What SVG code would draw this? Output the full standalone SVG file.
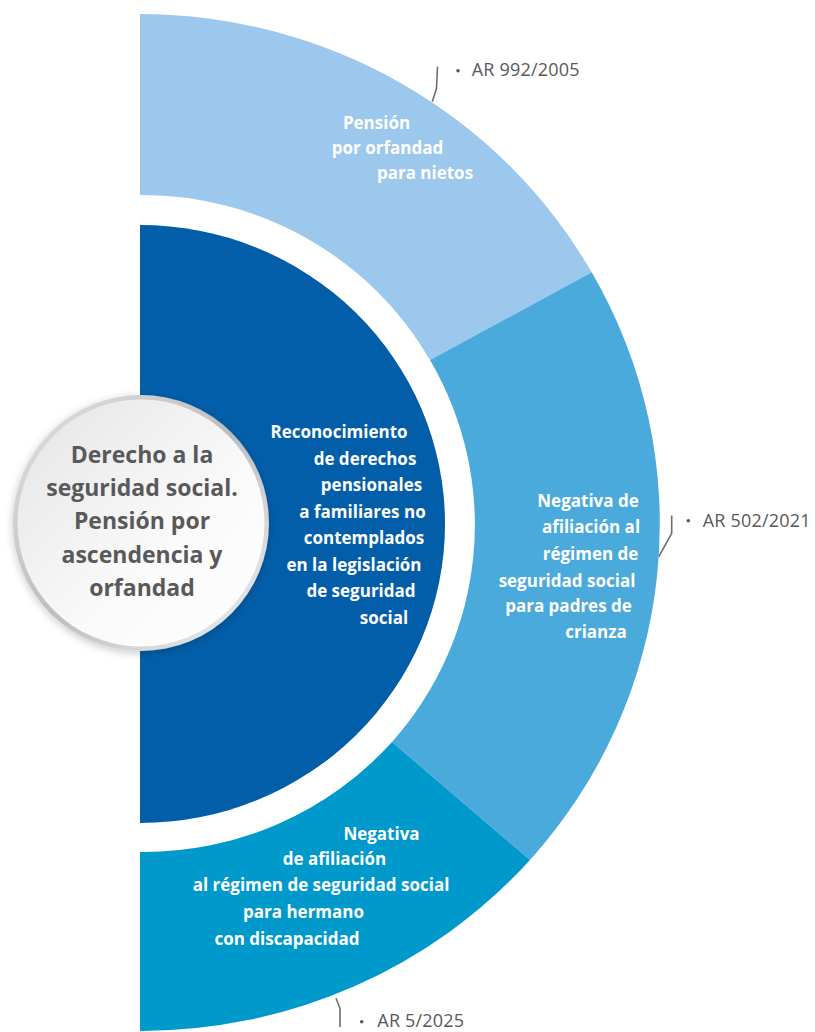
<svg xmlns="http://www.w3.org/2000/svg" width="815" height="1032" viewBox="0 0 815 1032">
<style>
.lbl{font-family:"Open Sans","Liberation Sans",sans-serif;font-weight:700;font-size:17px;fill:#ffffff;text-anchor:middle}
.ttl{font-family:"Open Sans","Liberation Sans",sans-serif;font-weight:700;font-size:23px;fill:#58595b;text-anchor:middle}
.ref{font-family:"Open Sans","Liberation Sans",sans-serif;font-weight:400;font-size:18px;letter-spacing:0.2px;fill:#58595b}
.lead{fill:none;stroke:#6d6e71;stroke-width:1.6}
.dot{fill:#58595b}
</style>
<defs>
<linearGradient id="rim" x1="0" y1="0" x2="1" y2="1">
<stop offset="0" stop-color="#e2e2e2"/>
<stop offset="0.5" stop-color="#bdbdbd"/>
<stop offset="1" stop-color="#f2f2f2"/>
</linearGradient>
<linearGradient id="face" x1="0" y1="0" x2="1" y2="1">
<stop offset="0" stop-color="#e4e4e4"/>
<stop offset="0.6" stop-color="#fafafa"/>
<stop offset="1" stop-color="#ffffff"/>
</linearGradient>
<filter id="sh" x="-20%" y="-20%" width="140%" height="140%">
<feDropShadow dx="0" dy="2" stdDeviation="4" flood-color="#000000" flood-opacity="0.22"/>
</filter>
</defs>
<g id="seg-top">
<path d="M140,14 A520,508.5 0 0 1 591.7,272.3 L430,360 A332,328.5 0 0 0 140,195 Z" fill="#9bc8ec"/>
<text class="lbl"><tspan x="376.5" y="129">Pensión</tspan><tspan x="387.5" y="154">por orfandad</tspan><tspan x="425" y="179">para nietos</tspan></text>
</g>
<g id="seg-mid">
<path d="M591.7,272.3 A520,508.5 0 0 1 530,860 L392,742 A332,328.5 0 0 0 430,360 Z" fill="#4aaadc"/>
<text class="lbl"><tspan x="588" y="507">Negativa de</tspan><tspan x="591" y="533">afiliación al</tspan><tspan x="590.5" y="560">régimen de</tspan><tspan x="567" y="587">seguridad social</tspan><tspan x="568.5" y="612">para padres de</tspan><tspan x="596" y="638">crianza</tspan></text>
</g>
<g id="seg-bot">
<path d="M530,860 A520,508.5 0 0 1 140,1031 L140,852 A332,328.5 0 0 0 392,742 Z" fill="#0099cc"/>
<text class="lbl"><tspan x="381.5" y="840">Negativa</tspan><tspan x="334.5" y="865">de afiliación</tspan><tspan x="321" y="891">al régimen de seguridad social</tspan><tspan x="303.5" y="918">para hermano</tspan><tspan x="287" y="945">con discapacidad</tspan></text>
</g>
<g id="core">
<path d="M140,225 A305,299 0 0 1 140,823 Z" fill="#035ea9"/>
<text class="lbl"><tspan x="339" y="438">Reconocimiento</tspan><tspan x="365" y="464.5">de derechos</tspan><tspan x="371.5" y="491">pensionales</tspan><tspan x="362.5" y="517.5">a familiares no</tspan><tspan x="364" y="544">contemplados</tspan><tspan x="354" y="570.5">en la legislación</tspan><tspan x="361" y="597">de seguridad</tspan><tspan x="384" y="623.5">social</tspan></text>
</g>
<g id="title">
<circle cx="141" cy="523" r="128" fill="url(#rim)" filter="url(#sh)"/>
<circle cx="141" cy="523" r="123.5" fill="url(#face)"/>
<text class="ttl"><tspan x="142" y="463">Derecho a la</tspan><tspan x="142" y="496">seguridad social.</tspan><tspan x="142" y="529">Pensión por</tspan><tspan x="142" y="563">ascendencia y</tspan><tspan x="142" y="596">orfandad</tspan></text>
</g>
<g id="connectors">
<polyline class="lead" points="432.3,101.7 436.5,88.3 437.5,66.7"/>
<polyline class="lead" points="658.8,556.7 671.7,533.3 671.7,515.5"/>
<polyline class="lead" points="336,998.3 340,1008.3 340,1027"/>
</g>
<g id="ref-1">
<circle class="dot" cx="458" cy="70.7" r="1.8"/>
<text class="ref" x="471.7" y="76">AR 992/2005</text>
</g>
<g id="ref-2">
<circle class="dot" cx="688.3" cy="520.7" r="1.8"/>
<text class="ref" x="702.7" y="526.5">AR 502/2021</text>
</g>
<g id="ref-3">
<circle class="dot" cx="361.7" cy="1021.7" r="1.8"/>
<text class="ref" x="377.3" y="1027">AR 5/2025</text>
</g>
</svg>
